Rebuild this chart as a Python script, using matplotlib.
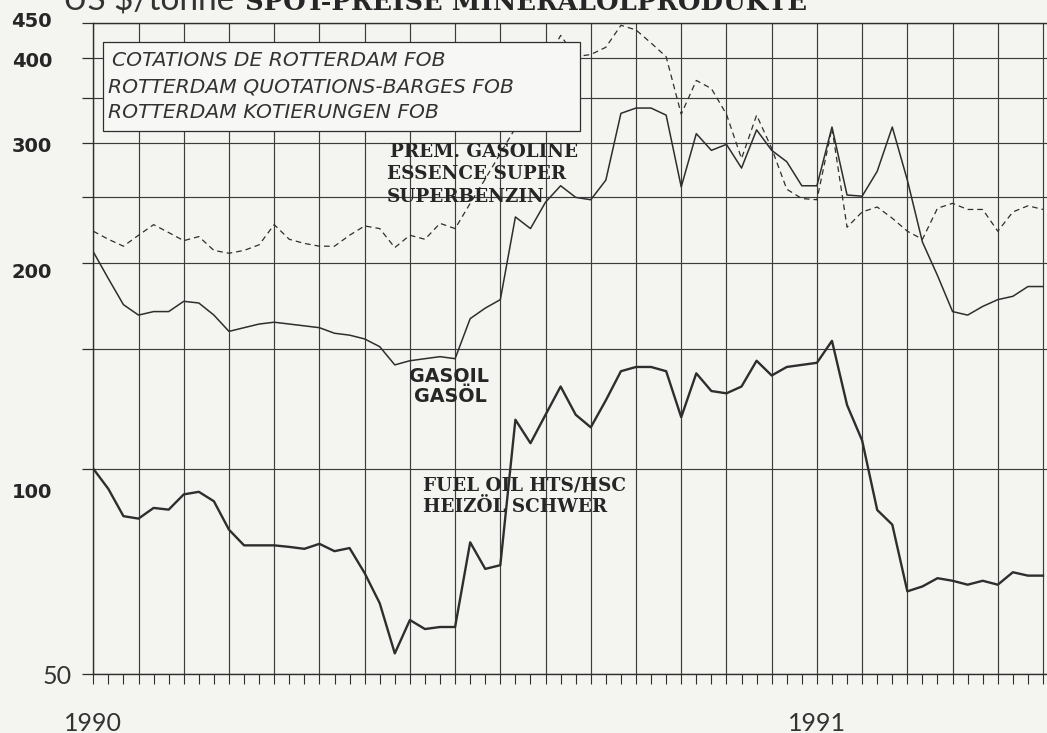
import numpy as np
import matplotlib
matplotlib.use("Agg")
import matplotlib.pyplot as plt
import matplotlib.patches as patches
from matplotlib.ticker import FixedLocator, MultipleLocator, NullFormatter, NullLocator

# ---------------------------------------------------------------------------
# Data (weekly spot prices, US $/tonne)
weeks = np.arange(64)

gasoline = [223, 217, 212, 220, 228, 222, 216, 219, 209, 207,
            209, 213, 228, 217, 214, 212, 212, 220, 227, 225,
            211, 220, 217, 229, 225, 245, 266, 290, 316, 355,
            393, 432, 402, 405, 415, 447, 440, 421, 402, 331,
            371, 361, 331, 285, 330, 295, 257, 249, 248, 316,
            226, 238, 242, 233, 223, 217, 241, 245, 240, 240,
            223, 238, 243, 240]

gasoil = [208, 190, 174, 168, 170, 170, 176, 175, 168, 159,
          161, 163, 164, 163, 162, 161, 158, 157, 155, 151,
          142, 144, 145, 146, 145, 166, 172, 177, 234, 225,
          246, 260, 250, 248, 265, 332, 338, 338, 330, 259,
          310, 293, 299, 276, 314, 293, 282, 260, 260, 317,
          252, 251, 273, 317, 265, 215, 192, 170, 168, 173,
          177, 179, 185, 185]

fuelOil = [100, 93.4, 85.2, 84.5, 87.6, 87.1, 91.7, 92.5, 89.6, 81.4,
           77.2, 77.2, 77.2, 76.8, 76.3, 77.6, 75.7, 76.5, 70.3, 63.5,
           53.6, 60.0, 58.2, 58.6, 58.6, 78.0, 71.3, 72.2, 118, 109,
           120, 132, 120, 115, 126, 139, 141, 141, 139, 119,
           138, 130, 129, 132, 144, 137, 141, 142, 143, 154,
           124, 110, 87, 82.8, 66.1, 67.2, 69.1, 68.5, 67.6, 68.5,
           67.6, 70.5, 69.7, 69.7]

yGrid = [50, 100, 150, 200, 250, 300, 350, 400, 450]
yLabels = ["450", "400", "300", "200", "100"]
yearLabels = ["1990", "1991"]
yearWeeks = [0, 48]

legendLines = ["COTATIONS DE ROTTERDAM FOB",
               "ROTTERDAM QUOTATIONS-BARGES FOB",
               "ROTTERDAM KOTIERUNGEN FOB"]
# ---------------------------------------------------------------------------

W, H = 1047, 733
paper = "#f4f4f1"
ink = "#2e2e2e"
thinFont = ["Lato", "DejaVu Sans"]


def px(x, y):
    # pixel position -> figure fraction
    return x / W, 1 - y / H


fig = plt.figure(figsize=(W / 100, H / 100), dpi=100, facecolor=paper)
ax = fig.add_axes([93.3 / W, 1 - 674 / H, 1 - 93.3 / W, (674 - 23.3) / H])
ax.set_facecolor(paper)

ax.set_yscale("log")
ax.set_ylim(50, 450)
ax.set_xlim(0, (W - 93.3) / 15.075)

ax.yaxis.set_major_locator(FixedLocator(yGrid))
ax.yaxis.set_minor_locator(NullLocator())
ax.yaxis.set_major_formatter(NullFormatter())
ax.yaxis.set_minor_formatter(NullFormatter())
ax.xaxis.set_major_locator(MultipleLocator(3))
ax.xaxis.set_minor_locator(MultipleLocator(1))
ax.xaxis.set_major_formatter(NullFormatter())

ax.tick_params(axis="y", which="major", direction="out", length=8, width=0.9, color=ink)
ax.tick_params(axis="x", which="both", direction="out", length=7, width=0.8, color=ink)

ax.grid(True, which="major", color="#3c3c3c", linewidth=0.85)
ax.set_axisbelow(True)
ax.spines["right"].set_visible(False)
for side in ["left", "bottom", "top"]:
    ax.spines[side].set_color(ink)
    ax.spines[side].set_linewidth(1.0)

# the three series
ax.plot(weeks, gasoline, color=ink, linewidth=0.9, dashes=(4.5, 3.2), zorder=3)
ax.plot(weeks, gasoil, color=ink, linewidth=1.1, zorder=3)
ax.plot(weeks, fuelOil, color=ink, linewidth=1.7, zorder=3)

# legend box (hides the lines behind it)
x0 = (103.3 - 93.3) / (W - 93.3)
x1 = (579.8 - 93.3) / (W - 93.3)
y0 = (674 - 131) / (674 - 23.3)
y1 = (674 - 41.7) / (674 - 23.3)
ax.add_patch(patches.Rectangle((x0, y0), x1 - x0, y1 - y0, transform=ax.transAxes,
                               facecolor="#f7f7f5", edgecolor=ink, linewidth=0.9, zorder=5))
for txt, (lx, ly) in zip(legendLines, [(112, 60), (108, 87), (108, 112)]):
    fig.text(*px(lx, ly), txt, fontsize=14.6, style="italic", color="#333333",
             family="DejaVu Sans", va="center", ha="left", zorder=6)

# y axis labels
for txt, ly in zip(yLabels, [21.7, 61.7, 146.7, 273, 492.7]):
    fig.text(*px(52, ly), txt, fontsize=14, fontweight="bold", color="#262626",
             family="DejaVu Sans", ha="right", va="center")
fig.text(*px(72, 676.7), "50", fontsize=18, color="#333333",
         family=thinFont, ha="right", va="center")

# year labels
for txt, wk in zip(yearLabels, yearWeeks):
    xx = 93.3 + wk * 15.075
    fig.text(*px(xx, 731), txt, fontsize=18, color="#333333",
             family=thinFont, ha="center", va="baseline")

# title, sitting against the top edge like the scan
fig.text(*px(63, 10), "US $/tonne", fontsize=24, color="#333333",
         family=thinFont, ha="left", va="baseline")
fig.text(*px(245, 10), "SPOT-PREISE MINERALÖLPRODUKTE", fontsize=18.6, fontweight="bold",
         color="#262626", family="DejaVu Serif", ha="left", va="baseline")

# series names
serifLabels = [("PREM. GASOLINE", 390, 151.7), ("ESSENCE SUPER", 387, 174.3),
               ("SUPERBENZIN", 387, 196.7), ("FUEL OIL HTS/HSC", 423, 486),
               ("HEIZÖL SCHWER", 423, 506.7)]
for txt, lx, ly in serifLabels:
    fig.text(*px(lx, ly), txt, fontsize=13.2, fontweight="bold", color="#262626",
             family="DejaVu Serif", ha="left", va="center", zorder=6)
fig.text(*px(449, 376.7), "GASOIL", fontsize=13.8, fontweight="bold", color="#262626",
         family="DejaVu Sans", ha="center", va="center")
fig.text(*px(450, 396.7), "GASÖL", fontsize=13.8, fontweight="bold", color="#262626",
         family="DejaVu Sans", ha="center", va="center")

fig.savefig("out.png", dpi=100, facecolor=paper)
